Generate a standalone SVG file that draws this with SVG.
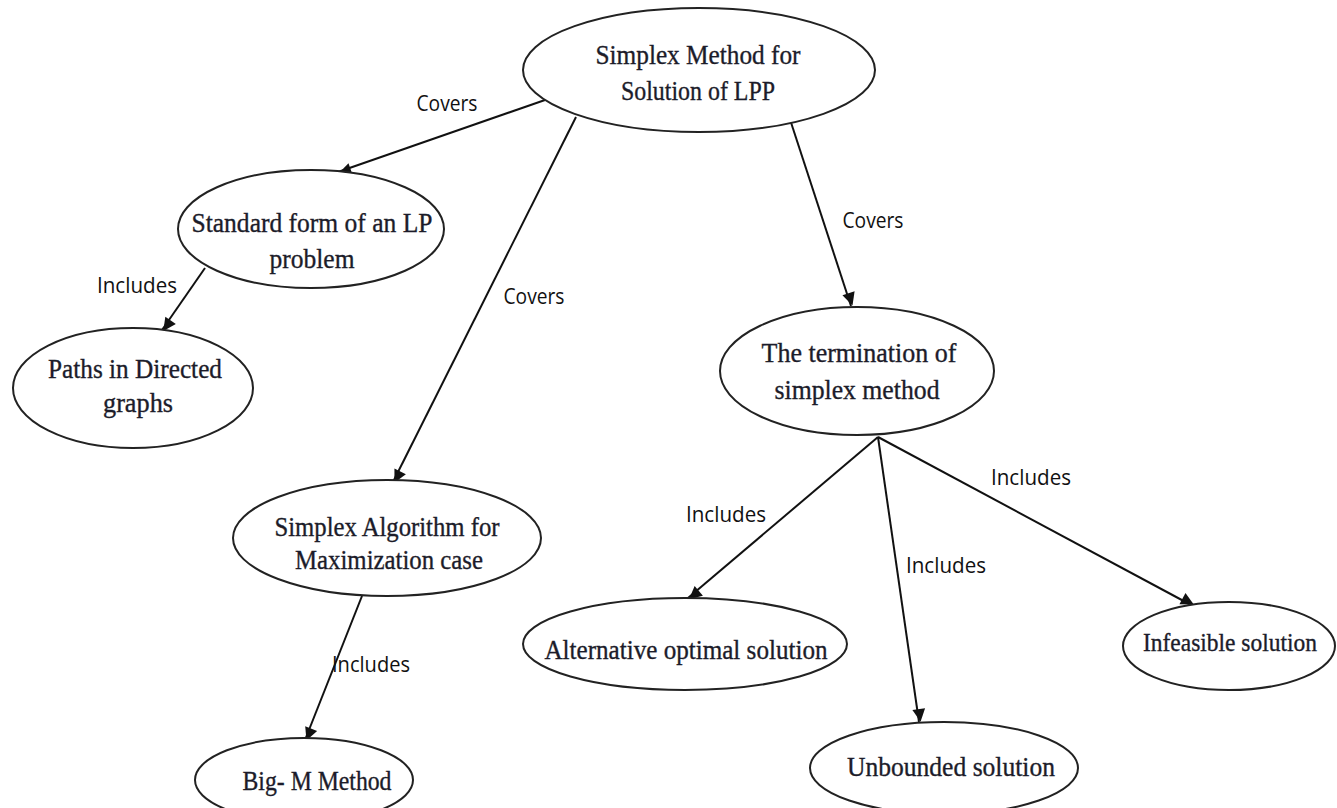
<svg xmlns="http://www.w3.org/2000/svg" width="1337" height="808" viewBox="0 0 1337 808">
<style>
.node ellipse{fill:#fff;stroke:#222;stroke-width:2}
.node text{font-family:"Liberation Serif","DejaVu Serif",serif;font-size:27px;fill:#1c1c2a;stroke:#1c1c2a;stroke-width:0.35;text-anchor:middle}
.edges line{stroke:#111;stroke-width:2;marker-end:url(#arr)}
.lbl{font-family:"Open Sans","Liberation Sans",sans-serif;font-size:21px;fill:#111;text-anchor:middle}
</style>
<defs>
<marker id="arr" viewBox="0 0 10 10" refX="10" refY="5" markerWidth="8" markerHeight="8" markerUnits="userSpaceOnUse" orient="auto" style="overflow:visible">
<path d="M0,0 L10,5 L0,10 z" fill="#111" transform="scale(1.6) translate(-3.75,-3.1)"/>
</marker>
</defs>
<rect width="1337" height="808" fill="#fff"/>
<g class="edges">
<line x1="545" y1="100" x2="338" y2="172"/>
<line x1="576" y1="117" x2="393" y2="482"/>
<line x1="783" y1="98" x2="851" y2="306"/>
<line x1="205" y1="268" x2="162" y2="330"/>
<line x1="362" y1="596" x2="305" y2="740"/>
<line x1="878" y1="437" x2="688" y2="598"/>
<line x1="878" y1="437" x2="919" y2="722"/>
<line x1="878" y1="437" x2="1193" y2="606"/>
<text class="lbl" x="447" y="111" textLength="61" lengthAdjust="spacingAndGlyphs">Covers</text>
<text class="lbl" x="534" y="304" textLength="61" lengthAdjust="spacingAndGlyphs">Covers</text>
<text class="lbl" x="873" y="228" textLength="61" lengthAdjust="spacingAndGlyphs">Covers</text>
<text class="lbl" x="137" y="293" textLength="80" lengthAdjust="spacingAndGlyphs">Includes</text>
<text class="lbl" x="371" y="672" textLength="78" lengthAdjust="spacingAndGlyphs">Includes</text>
<text class="lbl" x="726" y="522" textLength="80" lengthAdjust="spacingAndGlyphs">Includes</text>
<text class="lbl" x="946" y="573" textLength="80" lengthAdjust="spacingAndGlyphs">Includes</text>
<text class="lbl" x="1031" y="485" textLength="80" lengthAdjust="spacingAndGlyphs">Includes</text>
</g>
<g id="n-simplex" class="node">
<ellipse cx="699" cy="70" rx="176" ry="62"/>
<text x="698" y="64" textLength="205" lengthAdjust="spacingAndGlyphs">Simplex Method for</text>
<text x="698" y="100" textLength="154" lengthAdjust="spacingAndGlyphs">Solution of LPP</text>
</g>
<g id="n-standard" class="node">
<ellipse cx="311" cy="229" rx="133" ry="59"/>
<text x="312" y="232" textLength="241" lengthAdjust="spacingAndGlyphs">Standard form of an LP</text>
<text x="312" y="268" textLength="85" lengthAdjust="spacingAndGlyphs">problem</text>
</g>
<g id="n-paths" class="node">
<ellipse cx="133" cy="388" rx="120" ry="60"/>
<text x="135" y="378" textLength="174" lengthAdjust="spacingAndGlyphs">Paths in Directed</text>
<text x="138" y="412" textLength="70" lengthAdjust="spacingAndGlyphs">graphs</text>
</g>
<g id="n-algo" class="node">
<ellipse cx="387" cy="538" rx="154" ry="58"/>
<text x="387" y="536" textLength="225" lengthAdjust="spacingAndGlyphs">Simplex Algorithm for</text>
<text x="389" y="569" textLength="188" lengthAdjust="spacingAndGlyphs">Maximization  case</text>
</g>
<g id="n-term" class="node">
<ellipse cx="857" cy="371" rx="137" ry="64"/>
<text x="859" y="362" textLength="195" lengthAdjust="spacingAndGlyphs">The termination of</text>
<text x="857" y="399" textLength="165" lengthAdjust="spacingAndGlyphs">simplex method</text>
</g>
<g id="n-alt" class="node">
<ellipse cx="685" cy="644" rx="162" ry="46"/>
<text x="686" y="659" textLength="283" lengthAdjust="spacingAndGlyphs">Alternative optimal solution</text>
</g>
<g id="n-infeasible" class="node">
<ellipse cx="1229" cy="646" rx="106" ry="44"/>
<text x="1230" y="651" textLength="174" lengthAdjust="spacingAndGlyphs" style="font-size:25px">Infeasible solution</text>
</g>
<g id="n-unbounded" class="node">
<ellipse cx="944" cy="768" rx="134" ry="46"/>
<text x="951" y="776" textLength="208" lengthAdjust="spacingAndGlyphs">Unbounded solution</text>
</g>
<g id="n-bigm" class="node">
<ellipse cx="304" cy="780" rx="109" ry="42"/>
<text x="317" y="790" textLength="149" lengthAdjust="spacingAndGlyphs">Big- M Method</text>
</g>
</svg>
